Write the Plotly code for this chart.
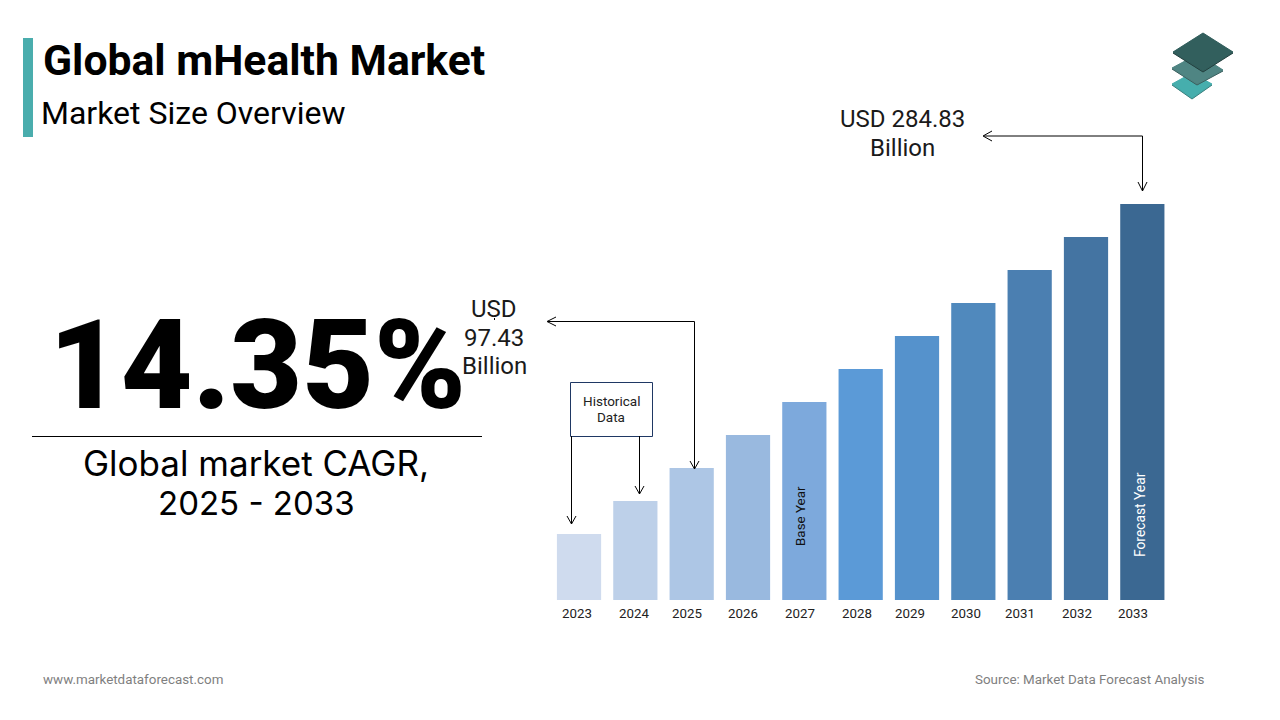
import plotly.graph_objects as go

W = 1280
H = 720

# Inputs
years = ["2023", "2024", "2025", "2026", "2027", "2028", "2029", "2030", "2031", "2032", "2033"]
# bar heights as drawn in the picture (not to scale with the USD labels), arbitrary units
bar_heights = [2, 3, 4, 5, 6, 7, 8, 9, 10, 11, 12]
bar_colors = ["#CFDBEE", "#BDD0E9", "#ADC6E5", "#99B9DF", "#7DA9DC", "#5B9AD7",
              "#5592CC", "#5089BD", "#4B7FB1", "#4474A2", "#3B6892"]
# the year labels sit a little left of their bars in the original
label_shift = [-2, -1, -5, -5, -4, -4, -7, -7, -10, -9, -9]


def px(x):
    return x / W


def py(y):
    return 1 - y / H


def text(x, y, s, size, color="#000000", family="Roboto", weight=400, angle=0, xanchor="center"):
    return dict(x=px(x), y=py(y), xref="paper", yref="paper", text=s, showarrow=False,
                font=dict(family=family, size=size, color=color, weight=weight),
                textangle=angle, xanchor=xanchor, yanchor="middle", align="center")


def rect(x0, y0, x1, y1, fill="rgba(0,0,0,0)", line=None, width=0):
    return dict(type="rect", xref="paper", yref="paper", x0=px(x0), x1=px(x1), y0=py(y0), y1=py(y1),
                fillcolor=fill, line=dict(color=line, width=width))


def poly(points, fill=None, line="#000000", width=1, close=False):
    d = "M" + " L".join(f"{px(x)},{py(y)}" for x, y in points) + (" Z" if close else "")
    return dict(type="path", xref="paper", yref="paper", path=d,
                fillcolor=fill if fill else "rgba(0,0,0,0)",
                line=dict(color=line, width=width))


fig = go.Figure(go.Bar(x=years, y=bar_heights, marker=dict(color=bar_colors, line=dict(width=0)),
                       hoverinfo="x"))

shapes = [
    rect(23, 38, 33, 137, fill="#4AADAD"),
    rect(570.5, 382.5, 652.5, 436.5, line="#1F3864", width=1),
    poly([(32, 436.5), (482, 436.5)]),
    # arrows
    poly([(984, 136), (1142.5, 136), (1142.5, 191)]),
    poly([(992, 131), (983, 136), (992, 141)]),
    poly([(1138, 182), (1142.5, 191), (1147, 182)]),
    poly([(548, 321.5), (694.5, 321.5), (694.5, 469)]),
    poly([(556, 317), (547, 321.5), (556, 326)]),
    poly([(690, 461), (694.5, 469), (699, 461)]),
    poly([(571.5, 436), (571.5, 524)]),
    poly([(567, 516), (571.5, 524), (576, 516)]),
    poly([(639.5, 436), (639.5, 494)]),
    poly([(635, 486), (639.5, 494), (644, 486)]),
    poly([(494.5, 318), (494.5, 320)]),
    # logo, bottom layer first
    poly([(1172, 85), (1192, 74), (1212, 85), (1192, 99)], fill="#3A7F7E", line="#3A7F7E", close=True),
    poly([(1172, 84), (1192, 73), (1212, 84), (1192, 98)], fill="#46AEAD", line="#46AEAD", close=True),
    poly([(1172, 69), (1198, 55), (1223, 71), (1197, 85)], fill="#3B5F5E", line="#3B5F5E", close=True),
    poly([(1172, 68), (1198, 54), (1223, 70), (1197, 84)], fill="#4F8583", line="#4F8583", close=True),
    poly([(1173, 53), (1203, 34), (1233, 53), (1203, 72)], fill="#233F3E", line="#233F3E", close=True),
    poly([(1173, 52), (1203, 33), (1233, 52), (1203, 71)], fill="#325F5D", line="#325F5D", close=True),
]

annotations = [
    text(41, 60, "Global mHealth Market", 42.7, weight=700, xanchor="left"),
    text(39, 113, "Market Size Overview", 32, xanchor="left"),
    text(257, 365, "14.35%", 124, weight=900),
    text(256, 463, "Global market CAGR,", 35, family="Inter"),
    text(256, 503, "2025 - 2033", 33, family="Inter"),
    text(902, 119, "USD 284.83", 24, color="#1A1A1A"),
    text(902, 148, "Billion", 24, color="#1A1A1A"),
    text(494, 309, "USD", 24, color="#1A1A1A"),
    text(494, 338, "97.43", 24, color="#1A1A1A"),
    text(494, 366, "Billion", 24, color="#1A1A1A"),
    text(611, 401, "Historical", 13.5, color="#222222"),
    text(611, 417, "Data", 13.5, color="#222222"),
    text(800, 516, "Base Year", 13.4, color="#111111", angle=-90),
    text(1140, 515, "Forecast Year", 13.8, color="#FFFFFF", angle=-90),
    text(41, 679, "www.marketdataforecast.com", 13.4, color="#7F7F7F", xanchor="left"),
    text(1207, 679, "Source: Market Data Forecast Analysis", 13.4, color="#7F7F7F", xanchor="right"),
]

# year labels
for i, yr in enumerate(years):
    annotations.append(dict(x=i, y=py(613), xref="x", yref="paper", xshift=label_shift[i], text=yr,
                            showarrow=False, yanchor="middle",
                            font=dict(family="Roboto", size=13.3, color="#222222")))

fig.update_layout(
    width=W, height=H, autosize=False,
    margin=dict(l=0, r=0, t=0, b=0),
    paper_bgcolor="white", plot_bgcolor="white",
    showlegend=False,
    bargap=0.215,
    shapes=shapes,
    annotations=annotations,
    xaxis=dict(domain=[px(550.85), px(1170.5)], range=[-0.5, 10.5], type="category",
               showticklabels=False, showgrid=False, zeroline=False, showline=False, ticks=""),
    yaxis=dict(domain=[py(600), py(204)], range=[0, 12], showticklabels=False,
               showgrid=False, zeroline=False, showline=False, ticks=""),
)

# browser default body margin would push the figure 8px off
fig.write_html("out.html", post_script="document.body.style.margin='0';",
               config=dict(displayModeBar=False))
